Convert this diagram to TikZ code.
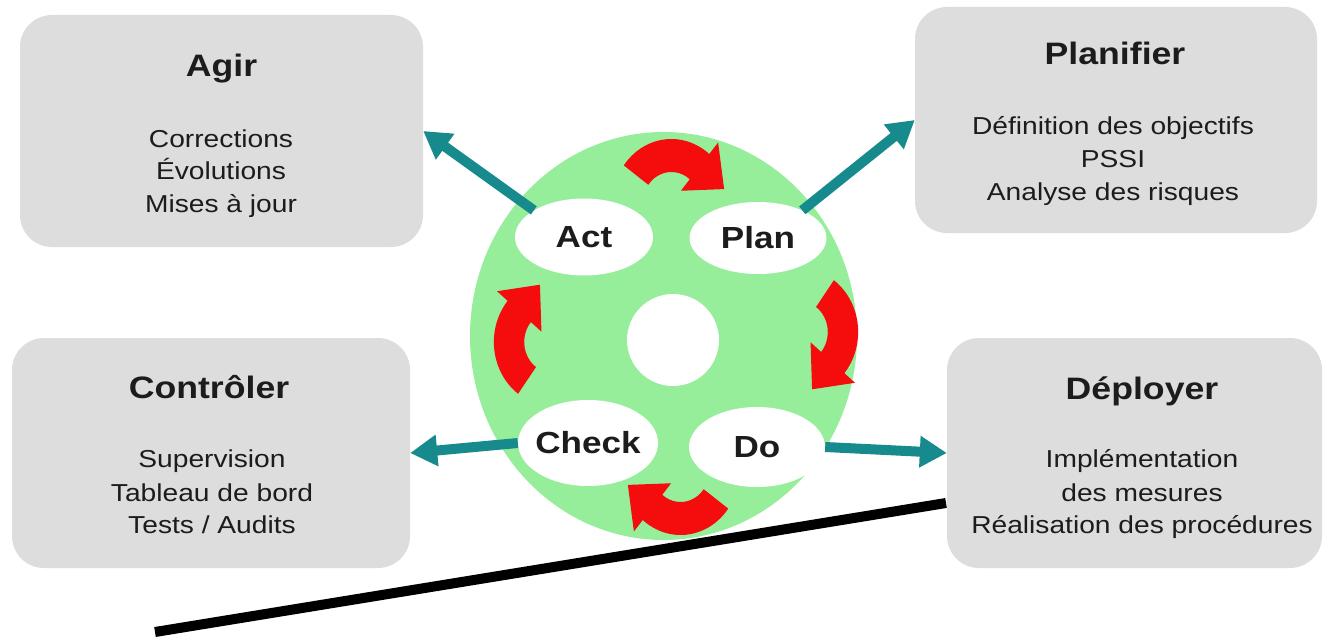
\documentclass[tikz,border=0pt]{standalone}
\usepackage{fontspec}
\setmainfont[FakeStretch=1.15]{Liberation Sans}
\usetikzlibrary{shapes.geometric,arrows.meta}
\definecolor{cardgray}{RGB}{221,221,221}
\definecolor{leaf}{RGB}{150,238,155}
\definecolor{tealink}{RGB}{22,138,140}
\definecolor{turnred}{RGB}{245,12,12}
\definecolor{ink}{RGB}{28,28,28}

% one curved block arrow of the PDCA wheel, drawn in the "top" position
% and turned about the wheel centre by #1 degrees
\newcommand\turnarrow[1]{%
  \begin{scope}[shift={(676,-337)}, xscale=0.92, rotate=#1, shift={(-5,134)}]
    \fill[turnred] (144:64) arc[start angle=144, end angle=50, radius=64pt]
      -- (50:79) -- (57.3,13.9) -- (50:16) -- (50:31)
      arc[start angle=50, end angle=144, radius=31pt] -- cycle;
  \end{scope}}

\begin{document}
\begin{tikzpicture}[x=1pt, y=1pt,
  card/.style={fill=cardgray, rounded corners=32pt, inner sep=0pt},
  ttl/.style={font=\bfseries\fontsize{31}{31}\selectfont, text=ink, anchor=base},
  bod/.style={font=\fontsize{24.5}{24.5}\selectfont, text=ink, anchor=base},
  bubble/.style={ellipse, fill=white, inner sep=0pt},
  lbl/.style={font=\bfseries\fontsize{30.5}{30.5}\selectfont, text=ink},
  link/.style={draw=tealink, line width=10pt, -{Triangle[length=27pt, width=30pt]}},
  ground/.style={draw=black, line width=10pt}]
\useasboundingbox (0,0) rectangle (1335,-642);
\fill[white] (0,0) rectangle (1335,-642);

% the wheel
\node[ellipse, fill=leaf, inner sep=0pt, minimum width=387pt, minimum height=408pt] (wheel) at (663.5,-336) {};
\node[circle, fill=white, inner sep=0pt, minimum size=92pt] (hub) at (673,-340) {};
\node[bubble, minimum width=138pt, minimum height=77pt] (act) at (584,-237) {};
\node[bubble, minimum width=137pt, minimum height=72pt] (plan) at (758,-238) {};
\node[bubble, minimum width=140pt, minimum height=86pt] (check) at (588,-443) {};
\node[bubble, minimum width=136pt, minimum height=80pt] (do) at (757,-447) {};

% clockwise cycle arrows
\turnarrow{0}
\turnarrow{-90}
\turnarrow{180}
\turnarrow{90}

% ground line
\coordinate (groundL) at (155,-632);
\coordinate (groundR) at (946,-503);
\draw[ground] (groundL) -- (groundR);

% phase cards
\node[card, minimum width=403pt, minimum height=232pt] (agir) at (221.5,-131) {};
\node[card, minimum width=402pt, minimum height=226pt] (planifier) at (1116,-120) {};
\node[card, minimum width=398pt, minimum height=230pt] (controler) at (211,-453) {};
\node[card, minimum width=375pt, minimum height=230pt] (deployer) at (1134.5,-453) {};

\node[ttl] (agirT) at (221.5,-77) {Agir};
\node[bod] (agir1) at (221,-147) {Corrections};
\node[bod] (agir2) at (221,-179) {Évolutions};
\node[bod] (agir3) at (221,-212) {Mises à jour};

\node[ttl] (planT) at (1115,-65) {Planifier};
\node[bod] (plan1) at (1113,-134) {Définition des objectifs};
\node[bod] (plan2) at (1113,-167) {PSSI};
\node[bod] (plan3) at (1113,-200) {Analyse des risques};

\node[ttl] (ctrlT) at (209,-398) {Contrôler};
\node[bod] (ctrl1) at (212,-467) {Supervision};
\node[bod] (ctrl2) at (212,-501) {Tableau de bord};
\node[bod] (ctrl3) at (212,-533) {Tests / Audits};

\node[ttl] (depT) at (1142,-399) {Déployer};
\node[bod] (dep1) at (1142,-467) {Implémentation};
\node[bod] (dep2) at (1142,-501) {des mesures};
\node[bod] (dep3) at (1142,-533) {Réalisation des procédures};

% links from each phase to its card
\draw[link] (act.152) -- (agir.east);
\draw[link] (plan.32) -- (planifier.west);
\draw[link] (check.west) -- (controler.east);
\draw[link] (do.east) -- (deployer.west);

% phase names
\node[lbl] (actL) at (act) {Act};
\node[lbl] (planL) at (plan) {Plan};
\node[lbl] (checkL) at (check) {Check};
\node[lbl] (doL) at (do) {Do};
\end{tikzpicture}
\end{document}
